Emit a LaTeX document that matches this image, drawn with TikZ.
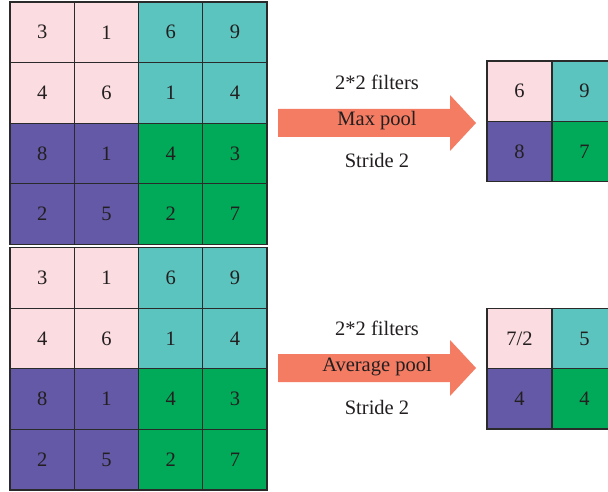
\documentclass[tikz,border=0pt]{standalone}
\usepackage{fontspec}
\setmainfont{Liberation Serif}
\definecolor{pinkc}{HTML}{FBDCE1}
\definecolor{tealc}{HTML}{5BC4BF}
\definecolor{purplec}{HTML}{6459A6}
\definecolor{greenc}{HTML}{00AA58}
\definecolor{arrowc}{HTML}{F47C63}
\definecolor{linec}{HTML}{2A2A2A}
\definecolor{txtc}{HTML}{231F20}
\begin{document}
\begin{tikzpicture}[x=1pt,y=-1pt,
  cell/.style={draw=linec, line width=1.2pt, inner sep=0pt, text=txtc,
    font=\fontsize{20.5}{20.5}\selectfont},
  bigcell/.style={cell, minimum width=64.25pt, minimum height=60.6pt},
  smallcell/.style={cell, minimum width=65pt, minimum height=60.2pt},
  label/.style={text=txtc, font=\fontsize{20.5}{20.5}\selectfont, inner sep=0pt},
  poolarrow/.style={fill=arrowc, draw=none}]
\clip (0,0) rectangle (608,492);
\fill[white] (0,0) rectangle (608,492);

% two 4x4 input grids
\foreach \g/\oy in {a/2, b/247.5} {
  \foreach \r/\c/\v/\col in {
    1/1/3/pinkc, 1/2/1/pinkc, 1/3/6/tealc, 1/4/9/tealc,
    2/1/4/pinkc, 2/2/6/pinkc, 2/3/1/tealc, 2/4/4/tealc,
    3/1/8/purplec, 3/2/1/purplec, 3/3/4/greenc, 3/4/3/greenc,
    4/1/2/purplec, 4/2/5/purplec, 4/3/2/greenc, 4/4/7/greenc} {
    \node[bigcell, fill=\col] (\g-\r-\c) at ({10+(\c-0.5)*64.25}, {\oy+(\r-0.5)*60.6}) {\v};
  }
}

% pooled 2x2 outputs
\foreach \g/\oy/\p/\q/\s/\t in {max/61/6/9/8/7, avg/308.5/7\slash 2/5/4/4} {
  \node[smallcell, fill=pinkc]   (\g-1-1) at (519.5, {\oy+30.1}) {\p};
  \node[smallcell, fill=tealc]   (\g-1-2) at (584.5, {\oy+30.1}) {\q};
  \node[smallcell, fill=purplec] (\g-2-1) at (519.5, {\oy+90.3}) {\s};
  \node[smallcell, fill=greenc]  (\g-2-2) at (584.5, {\oy+90.3}) {\t};
}

% block arrows
\foreach \dy in {0, 245} {
  \fill[poolarrow] (278,109+\dy) -- (450,109+\dy) -- (450,95+\dy) -- (476,123+\dy)
    -- (450,151+\dy) -- (450,137+\dy) -- (278,137+\dy) -- cycle;
}

% arrow captions
\node[label] (maxf) at (377,82) {2*2 filters};
\node[label] (maxp) at (377,121) {Max pool};
\node[label] (maxs) at (377,160) {Stride 2};
\node[label] (avgf) at (377,328) {2*2 filters};
\node[label] (avgp) at (377,367) {Average pool};
\node[label] (avgs) at (377,407) {Stride 2};
\end{tikzpicture}
\end{document}
